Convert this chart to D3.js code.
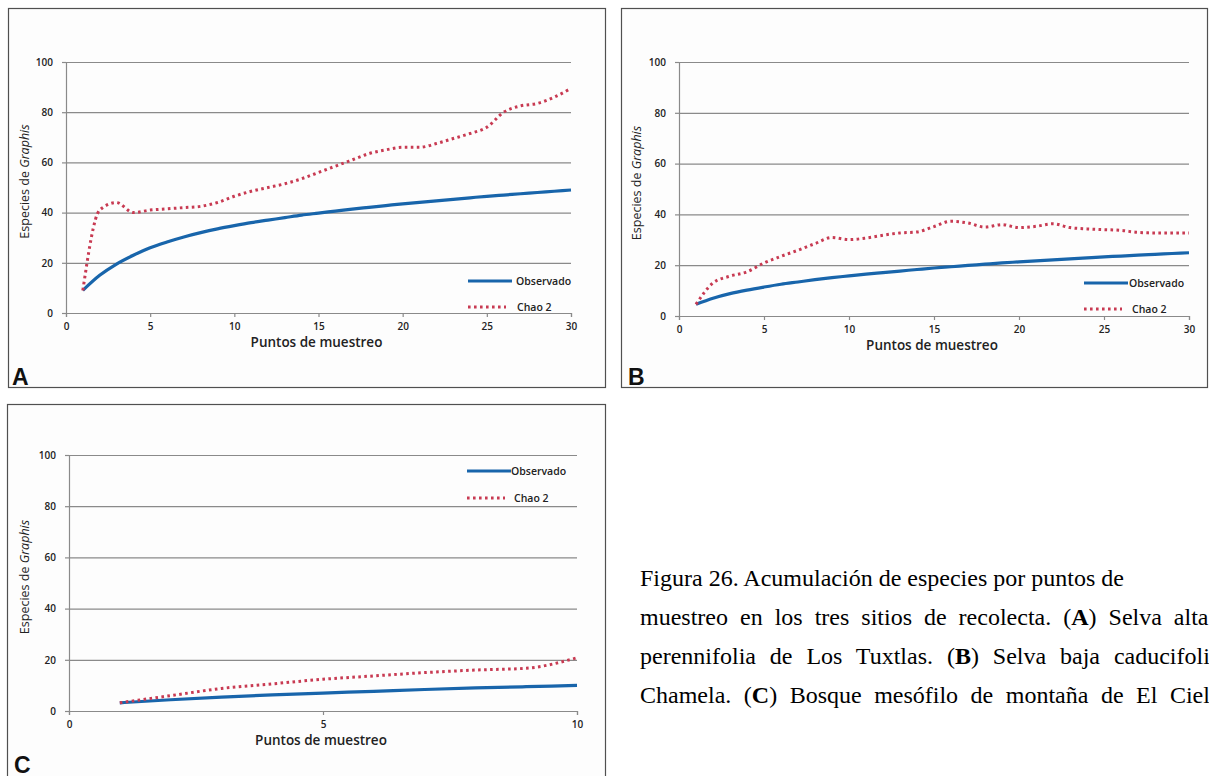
<!DOCTYPE html>
<html>
<head>
<meta charset="utf-8">
<script src="https://cdn.jsdelivr.net/npm/d3@7"></script>
<style>
  html, body { margin: 0; padding: 0; background: #ffffff; overflow: hidden; }
  svg { display: block; }
</style>
</head>
<body>
<svg id="chart" width="1209" height="776"></svg>
<script>
// ---------------- DATA ----------------
const puntosAB = [1,2,3,4,5,6,7,8,9,10,11,12,13,14,15,16,17,18,19,20,21,22,23,24,25,26,27,28,29,30];
const puntosC  = [1,2,3,4,5,6,7,8,9,10];

const observadoA = [9,15,19.5,23,26,28.3,30.3,32,33.5,34.8,36,37,38,39,39.8,40.6,41.4,42.1,42.8,43.5,44.1,44.7,45.3,45.9,46.5,47,47.5,48,48.5,49];
const chaoA      = [9,41,44,40,41,41.5,42,42.5,44,46.5,48.5,50,51.5,53.5,56,58.5,61,63.5,65,66,66,67.5,69.5,71.5,74,80,82.5,83.5,86,89.5];

const observadoB = [4.6,7,8.8,10.2,11.4,12.5,13.4,14.3,15.1,15.8,16.5,17.1,17.7,18.3,18.9,19.4,19.9,20.4,20.9,21.3,21.7,22.1,22.5,22.9,23.3,23.6,24,24.3,24.6,24.9];
const chaoB      = [4.6,13,15.7,17.4,20.9,23.5,25.9,28.5,30.9,30.1,30.7,31.8,32.7,33.1,35.2,37.3,36.6,35,36,34.8,35.3,36.3,34.8,34.3,34,33.7,32.9,32.7,32.7,32.7];

const observadoC = [3.2,4.4,5.4,6.3,7.0,7.7,8.4,9.0,9.5,10];
const chaoC      = [3.2,6,8.8,10.6,12.4,13.7,15,16,16.7,20.8];

const yTicks   = [0,20,40,60,80,100];
const xTicksAB = [0,5,10,15,20,25,30];
const xTicksC  = [0,5,10];

const seriesNames = ["Observado","Chao 2"];
const panelLetters = ["A","B","C"];
const xTitle = "Puntos de muestreo";

const captionLines = [
  [["Figura 26. Acumulación de especies por puntos de", false]],
  [["muestreo en los tres sitios de recolecta. (", false],["A", true],[") Selva alta", false]],
  [["perennifolia de Los Tuxtlas. (", false],["B", true],[") Selva baja caducifolia", false]],
  [["Chamela. (", false],["C", true],[") Bosque mesófilo de montaña de El Cielo", false]]
];

// ---------------- STYLE ----------------
const BLUE = "#1865ab";
const RED  = "#c83a52";
const GRID = "#8a8a8a";
const FONT = "'Open Sans', 'DejaVu Sans', sans-serif";

const svg = d3.select("#chart");

const panels = [
  { letter: panelLetters[0], frame:{x:8,y:8,w:597,h:379}, plot:{x0:66,x1:571,y0:313,y1:62},
    xmax:30, xticks:xTicksAB, xs:puntosAB, obs:observadoA, chao:chaoA,
    legend:{lx:468, ly1:281, ly2:307, tx1:516, tx2:517}, letterPos:{x:12,y:385}, ytx:29 },
  { letter: panelLetters[1], frame:{x:621,y:8,w:586,h:379}, plot:{x0:679,x1:1189,y0:316,y1:62},
    xmax:30, xticks:xTicksAB, xs:puntosAB, obs:observadoB, chao:chaoB,
    legend:{lx:1084, ly1:283, ly2:309, tx1:1129, tx2:1132}, letterPos:{x:628,y:385}, ytx:641 },
  { letter: panelLetters[2], frame:{x:7,y:404,w:598,h:400}, plot:{x0:69,x1:577,y0:711,y1:455},
    xmax:10, xticks:xTicksC, xs:puntosC, obs:observadoC, chao:chaoC,
    legend:{lx:467, ly1:471, ly2:498, tx1:511, tx2:514}, letterPos:{x:14,y:773}, ytx:29 }
];

panels.forEach(p => {
  const g = svg.append("g");
  // frame
  g.append("rect")
    .attr("x", p.frame.x + 0.5).attr("y", p.frame.y + 0.5)
    .attr("width", p.frame.w).attr("height", p.frame.h)
    .attr("fill", "#fdfdfd").attr("stroke", "#505050").attr("stroke-width", 1.2);

  const x = d3.scaleLinear().domain([0, p.xmax]).range([p.plot.x0, p.plot.x1]);
  const y = d3.scaleLinear().domain([0, 100]).range([p.plot.y0, p.plot.y1]);

  // gridlines
  g.append("g")
    .attr("transform", `translate(${p.plot.x0},0)`)
    .call(d3.axisLeft(y).tickValues(yTicks).tickSize(-(p.plot.x1 - p.plot.x0)).tickFormat(""))
    .call(a => a.select(".domain").remove())
    .call(a => a.selectAll("line").attr("stroke", GRID).attr("stroke-width", 1.2));

  // y axis
  const ya = g.append("g")
    .attr("transform", `translate(${p.plot.x0},0)`)
    .call(d3.axisLeft(y).tickValues(yTicks).tickSize(4).tickPadding(9));
  ya.select(".domain").attr("stroke", GRID).attr("stroke-width", 1.2);
  ya.selectAll("line").attr("stroke", GRID).attr("stroke-width", 1.2);
  ya.selectAll("text").attr("font-family", FONT).attr("font-size", 10)
    .attr("font-weight", 600).attr("fill", "#222");

  // x axis
  const xa = g.append("g")
    .attr("transform", `translate(0,${p.plot.y0})`)
    .call(d3.axisBottom(x).tickValues(p.xticks).tickSize(4).tickPadding(6));
  xa.select(".domain").attr("stroke", GRID).attr("stroke-width", 1.2);
  xa.selectAll("line").attr("stroke", GRID).attr("stroke-width", 1.2);
  xa.selectAll("text").attr("font-family", FONT).attr("font-size", 10)
    .attr("font-weight", 600).attr("fill", "#222");

  // axis titles
  g.append("text")
    .attr("x", (p.plot.x0 + p.plot.x1) / 2 - 2).attr("y", p.plot.y0 + 34)
    .attr("text-anchor", "middle").attr("font-family", FONT)
    .attr("font-size", 13.5).attr("font-weight", 600).attr("fill", "#222")
    .text(xTitle);

  const yt = g.append("text")
    .attr("transform", `translate(${p.ytx},${(p.plot.y0 + p.plot.y1) / 2 - 6}) rotate(-90)`)
    .attr("text-anchor", "middle").attr("font-family", FONT)
    .attr("font-size", 12.5).attr("fill", "#222");
  yt.append("tspan").text("Especies de ");
  yt.append("tspan").attr("font-style", "italic").text("Graphis");

  // lines
  const lineGen = d3.line().x((d, i) => x(p.xs[i])).y(d => y(d)).curve(d3.curveMonotoneX);
  g.append("path").datum(p.obs)
    .attr("d", lineGen).attr("fill", "none")
    .attr("stroke", BLUE).attr("stroke-width", 3.2);
  g.append("path").datum(p.chao)
    .attr("d", lineGen).attr("fill", "none")
    .attr("stroke", RED).attr("stroke-width", 3)
    .attr("stroke-dasharray", "2.6,3.4");

  // legend
  g.append("line")
    .attr("x1", p.legend.lx).attr("x2", p.legend.lx + 44)
    .attr("y1", p.legend.ly1).attr("y2", p.legend.ly1)
    .attr("stroke", BLUE).attr("stroke-width", 3);
  g.append("text")
    .attr("x", p.legend.tx1).attr("y", p.legend.ly1 + 3.8)
    .attr("font-family", FONT).attr("font-size", 10.5).attr("font-weight", 600).attr("fill", "#222")
    .text(seriesNames[0]);
  g.append("line")
    .attr("x1", p.legend.lx).attr("x2", p.legend.lx + 38)
    .attr("y1", p.legend.ly2).attr("y2", p.legend.ly2)
    .attr("stroke", RED).attr("stroke-width", 3)
    .attr("stroke-dasharray", "2.6,3.4");
  g.append("text")
    .attr("x", p.legend.tx2).attr("y", p.legend.ly2 + 3.8)
    .attr("font-family", FONT).attr("font-size", 10.5).attr("font-weight", 600).attr("fill", "#222")
    .text(seriesNames[1]);

  // panel letter
  g.append("text")
    .attr("x", p.letterPos.x).attr("y", p.letterPos.y)
    .attr("font-family", "'Liberation Sans', Arial, sans-serif")
    .attr("font-size", 23).attr("font-weight", 700).attr("fill", "#111")
    .text(p.letter);
});

// caption
const capBase = [586, 625, 664, 703];
const capWordSpacing = [0, 6, 7.9, 6.5];
captionLines.forEach((line, i) => {
  const t = svg.append("text")
    .attr("x", 640).attr("y", capBase[i])
    .attr("font-family", "'Liberation Serif', 'Times New Roman', serif")
    .attr("font-size", 24).attr("fill", "#000")
    .style("word-spacing", capWordSpacing[i] + "px");
  line.forEach(([s, bold]) => {
    t.append("tspan").attr("font-weight", bold ? 700 : 400).text(s);
  });
});
</script>
</body>
</html>
